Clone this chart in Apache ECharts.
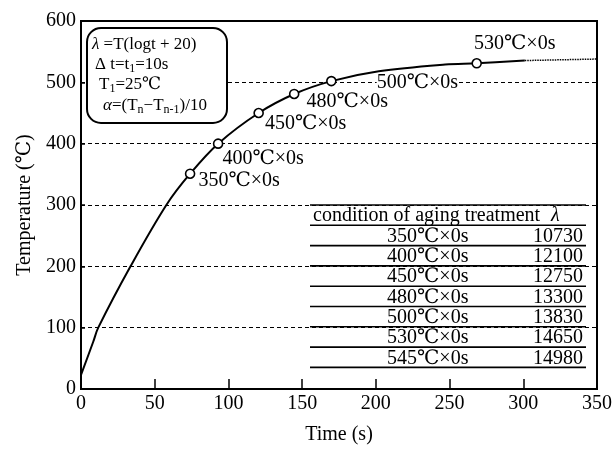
<!DOCTYPE html>
<html>
<head>
<meta charset="utf-8">
<script src="https://cdn.jsdelivr.net/npm/echarts@6/dist/echarts.min.js"></script>
<style>
  html, body { margin: 0; padding: 0; background: #fff; }
  #chart { width: 615px; height: 450px; }
</style>
</head>
<body>
<div id="chart"></div>
<script>
// curve (time s, temperature C)
var curveTime = [0, 8.3, 11.7, 33.6, 57.9, 74, 93, 120.5, 144.6, 169.8, 202, 247, 268.4, 301];
var curveTemp = [23, 77, 100, 200, 300, 351, 400, 450, 481, 502, 518, 529, 531, 535.5];

// dotted continuation
var extTime = [301, 350];
var extTemp = [535.5, 538];

// open circles on the curve
var markTime = [74, 93, 120.5, 144.6, 169.8, 268.4];
var markTemp = [351, 400, 450, 481, 502, 531];
var markName = ['350℃×0s', '400℃×0s', '450℃×0s', '480℃×0s', '500℃×0s', '530℃×0s'];

// table
var tableCond = ['350℃×0s', '400℃×0s', '450℃×0s', '480℃×0s', '500℃×0s', '530℃×0s', '545℃×0s'];
var tableLambda = [10730, 12100, 12750, 13300, 13830, 14650, 14980];

var xTicks = [0, 350, 50];
var yTicks = [0, 600, 100];

var FONT = '"Liberation Serif", "DejaVu Serif", serif';

// label offsets for the circles (px)
var labelOffset = [[3, 7], [-1, 15], [1, 11], [7, 8], [40, 2], [-8, -20]];

function pairs(xs, ys) {
    return xs.map(function (x, i) { return [x, ys[i]]; });
}

var markData = markTime.map(function (t, i) {
    return {
        value: [t, markTemp[i]],
        name: markName[i],
        label: { offset: labelOffset[i] }
    };
});

// table graphic
var tblX = 310, tblY = 205, tblW = 276, rowH = 20.3;
var tableEls = [];
tableEls.push({
    type: 'rect',
    shape: { x: 0, y: 0, width: tblW, height: rowH * 8 },
    style: { fill: '#fff' }
});
for (var i = 0; i <= 8; i++) {
    tableEls.push({
        type: 'line',
        shape: { x1: 0, y1: i * rowH, x2: tblW, y2: i * rowH },
        style: { stroke: '#000', lineWidth: 1.6 }
    });
}
tableEls.push({
    type: 'text', x: 3, y: rowH / 2 + 1,
    style: { text: 'condition of aging treatment', font: '20px ' + FONT, fill: '#000', verticalAlign: 'middle' }
});
tableEls.push({
    type: 'text', x: 241, y: rowH / 2 + 1,
    style: { text: 'λ', font: 'italic 20px ' + FONT, fill: '#000', verticalAlign: 'middle' }
});
for (var j = 0; j < tableCond.length; j++) {
    tableEls.push({
        type: 'text', x: 77, y: (j + 1.5) * rowH + 1,
        style: { text: tableCond[j], font: '20px ' + FONT, fill: '#000', verticalAlign: 'middle' }
    });
    tableEls.push({
        type: 'text', x: 273, y: (j + 1.5) * rowH + 1,
        style: { text: String(tableLambda[j]), font: '20px ' + FONT, fill: '#000', verticalAlign: 'middle', align: 'right' }
    });
}

var richStyles = {
    n: { fontSize: 17, fontFamily: FONT, color: '#000', lineHeight: 20 },
    i: { fontSize: 17, fontFamily: FONT, fontStyle: 'italic', color: '#000', lineHeight: 20 },
    s: { fontSize: 12, fontFamily: FONT, color: '#000', lineHeight: 12, padding: [8, 0, 0, 0] }
};

var option = {
    animation: false,
    backgroundColor: '#fff',
    grid: {
        left: 81, right: 16, top: 21, bottom: 59,
        show: true, borderColor: '#000', borderWidth: 2
    },
    xAxis: {
        type: 'value',
        min: xTicks[0], max: xTicks[1], interval: xTicks[2],
        name: 'Time (s)',
        nameLocation: 'middle',
        nameGap: 36,
        nameTextStyle: { fontSize: 20, fontFamily: FONT, color: '#000' },
        axisLine: { lineStyle: { color: '#000', width: 2 } },
        axisTick: { inside: true, length: 10, lineStyle: { color: '#000', width: 1.5 } },
        axisLabel: { fontSize: 20, fontFamily: FONT, color: '#000', margin: 5 },
        splitLine: { show: false }
    },
    yAxis: {
        type: 'value',
        min: yTicks[0], max: yTicks[1], interval: yTicks[2],
        name: 'Temperature (℃)',
        nameLocation: 'middle',
        nameGap: 46,
        nameTextStyle: { fontSize: 20, fontFamily: FONT, color: '#000' },
        axisLine: { show: true, lineStyle: { color: '#000', width: 2 } },
        axisTick: { show: true, inside: true, length: 4, lineStyle: { color: '#000', width: 1.5 } },
        axisLabel: { fontSize: 20, fontFamily: FONT, color: '#000', margin: 5 },
        splitLine: { show: true, lineStyle: { color: '#000', width: 1, type: [4, 3] } }
    },
    series: [
        {
            name: 'curve',
            type: 'line',
            data: pairs(curveTime, curveTemp),
            smooth: 0.35,
            symbol: 'none',
            lineStyle: { color: '#000', width: 2 },
            z: 3
        },
        {
            name: 'ext',
            type: 'line',
            data: pairs(extTime, extTemp),
            symbol: 'none',
            lineStyle: { color: '#000', width: 1.5, type: [1.5, 1] },
            z: 3
        },
        {
            name: 'marks',
            type: 'scatter',
            data: markData,
            symbol: 'circle',
            symbolSize: 9,
            itemStyle: { color: '#fff', borderColor: '#000', borderWidth: 1.6, opacity: 1 },
            label: {
                show: true,
                position: 'right',
                distance: 0,
                formatter: '{b}',
                fontSize: 20,
                fontFamily: FONT,
                color: '#000',
                backgroundColor: '#fff'
            },
            z: 4
        }
    ],
    graphic: [
        {
            type: 'rect',
            shape: { x: 87, y: 28, width: 140, height: 95, r: 14 },
            style: { fill: '#fff', stroke: '#000', lineWidth: 2 },
            z: 50
        },
        {
            type: 'text', x: 92, y: 45, z: 51,
            style: { text: '{i|λ}{n| =T(logt + 20)}', rich: richStyles, verticalAlign: 'middle' }
        },
        {
            type: 'text', x: 95, y: 65, z: 51,
            style: { text: '{n|Δ t=t}{s|1}{n|=10s}', rich: richStyles, verticalAlign: 'middle' }
        },
        {
            type: 'text', x: 99, y: 85, z: 51,
            style: { text: '{n|T}{s|1}{n|=25℃}', rich: richStyles, verticalAlign: 'middle' }
        },
        {
            type: 'text', x: 103, y: 106, z: 51,
            style: { text: '{i|α}{n|=(T}{s|n}{n|−T}{s|n-1}{n|)/10}', rich: richStyles, verticalAlign: 'middle' }
        },
        {
            type: 'group', x: tblX, y: tblY, z: 40,
            children: tableEls
        }
    ]
};

var chart = echarts.init(document.getElementById('chart'));
chart.setOption(option);

window.addEventListener('resize', function () {
    chart.resize();
});
</script>
</body>
</html>
